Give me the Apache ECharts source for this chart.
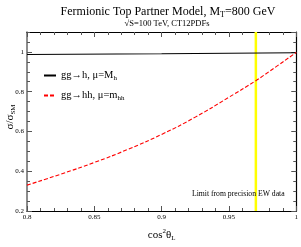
<!DOCTYPE html>
<html><head><meta charset="utf-8">
<script src="https://cdn.jsdelivr.net/npm/echarts@6/dist/echarts.min.js"></script>
<style>html,body{margin:0;padding:0;background:#fff}#c{width:301px;height:247px}</style>
</head><body><div id="c"></div>
<script>
const cosSqX = [0.8, 0.825, 0.85, 0.875, 0.9, 0.925, 0.95, 0.97, 0.975, 1.0];
const hhRatio = [0.330, 0.385, 0.444, 0.510, 0.585, 0.672, 0.772, 0.855, 0.878, 0.997];
const hX = [0.8, 0.9, 1.0];
const hRatio = [0.987, 0.991, 0.996];
const ewLimitX = 0.97;
const ewLimitY = [0.2, 1.1];
const xTicks = [0.8, 0.85, 0.9, 0.95, 1];
const yTicks = [0.2, 0.4, 0.6, 0.8, 1];

const serif = 'Liberation Serif';
const chart = echarts.init(document.getElementById('c'), null, {renderer: 'canvas'});
const fmtNum = v => String(+v.toFixed(2));
const baseX = {type: 'value', min: 0.8, max: 1, interval: 0.05,
  axisLine: {show: true, lineStyle: {color: '#000', width: 1.2}},
  splitLine: {show: false}};
const baseY = {type: 'value', min: 0.2, max: 1.1,
  axisLine: {show: true, lineStyle: {color: '#000', width: 1.2}},
  splitLine: {show: false}};
const tickStyle = {color: '#555', width: 1};
chart.setOption({
  animation: false,
  backgroundColor: '#fff',
  grid: {left: 27, right: 3, top: 32, bottom: 29, containLabel: false},
  title: [{
    text: 'Fermionic Top Partner Model, M{sub|T}=800 GeV',
    left: 163, textAlign: 'center', top: -1,
    textStyle: {fontFamily: serif, fontSize: 12, fontWeight: 'normal', color: '#000',
      rich: {sub: {fontFamily: serif, fontSize: 8, padding: [7, 0, 0, 0], color: '#000'}}}
  }, {
    text: '\u221aS=100 TeV, CT12PDFs',
    left: 162, textAlign: 'center', top: 14,
    textStyle: {fontFamily: serif, fontSize: 8.5, fontWeight: 'normal', color: '#000'}
  }],
  legend: {
    left: 43, top: 70, padding: 0, orient: 'vertical', itemWidth: 12, itemHeight: 8, itemGap: 8,
    data: ['h', 'hh'],
    itemStyle: {opacity: 0},
    formatter: n => n === 'h' ? 'gg\u2192h, \u03bc=M{sub|h}' : 'gg\u2192hh, \u03bc=m{sub|hh}',
    textStyle: {fontFamily: serif, fontSize: 10.5, color: '#000', padding: [0, 0, 0, 0],
      rich: {sub: {fontFamily: serif, fontSize: 7, padding: [6, 0, 0, 0], color: '#000'}}}
  },
  xAxis: [
    Object.assign({}, baseX, {position: 'bottom',
      axisTick: {show: true, inside: true, length: 5, lineStyle: tickStyle},
      minorTick: {show: true, splitNumber: 5, length: 3, lineStyle: tickStyle},
      axisLabel: {fontFamily: serif, fontSize: 7, color: '#000', margin: 3, formatter: fmtNum},
      name: 'cos{sup|2}\u03b8{sub|L}', nameLocation: 'middle', nameGap: 17,
      nameTextStyle: {fontFamily: serif, fontSize: 11, color: '#000',
        rich: {sup: {fontSize: 7, padding: [0, 0, 7, 0]}, sub: {fontSize: 7, padding: [7, 0, 0, 0]}}}}),
    Object.assign({}, baseX, {position: 'top',
      axisTick: {show: true, inside: true, length: 5, lineStyle: tickStyle},
      minorTick: {show: true, splitNumber: 5, length: 3, lineStyle: tickStyle},
      axisLabel: {show: false}})
  ],
  yAxis: [
    Object.assign({}, baseY, {position: 'left', interval: 0.2,
      axisLine: {show: true, lineStyle: {color: '#666', width: 1.5}},
      axisTick: {show: true, inside: true, length: 5, lineStyle: tickStyle},
      axisLabel: {fontFamily: serif, fontSize: 7, color: '#000', margin: 3, showMaxLabel: false,
        formatter: v => (v > 1.05 ? '' : fmtNum(v))}}),
    Object.assign({}, baseY, {position: 'left', interval: 0.05, axisLine: {show: false},
      axisTick: {show: true, inside: true, length: 3, lineStyle: tickStyle},
      axisLabel: {show: false}}),
    Object.assign({}, baseY, {position: 'right', interval: 0.2,
      axisTick: {show: true, inside: true, length: 5, lineStyle: tickStyle},
      axisLabel: {show: false}}),
    Object.assign({}, baseY, {position: 'right', interval: 0.05, axisLine: {show: false},
      axisTick: {show: true, inside: true, length: 3, lineStyle: tickStyle},
      axisLabel: {show: false}})
  ],
  graphic: [{
    type: 'text', left: 192, top: 190, silent: true, z: 100,
    style: {text: 'Limit from precision EW data', fontFamily: serif, fontSize: 7.7, fill: '#000'}
  }, {
    type: 'text', x: 10, y: 117, rotation: Math.PI / 2, silent: true, z: 100,
    style: {text: '\u03c3/\u03c3{sub|SM}', fontFamily: serif, fontSize: 11, fill: '#000',
      align: 'center', verticalAlign: 'middle',
      rich: {sub: {fontFamily: serif, fontSize: 7, padding: [7, 0, 0, 0], fill: '#000'}}}
  }],
  series: [
    {name: 'ew', type: 'line', symbol: 'none', z: 1,
      data: ewLimitY.map(y => [ewLimitX, y]),
      lineStyle: {color: '#ffff00', width: 2.5}, itemStyle: {color: '#ffff00'}},
    {name: 'h', type: 'line', symbol: 'none', z: 3,
      data: hX.map((x, i) => [x, hRatio[i]]),
      lineStyle: {color: '#000', width: 1.1}, itemStyle: {color: '#000'}},
    {name: 'hh', type: 'line', symbol: 'none', smooth: true, z: 3,
      data: cosSqX.map((x, i) => [x, hhRatio[i]]),
      lineStyle: {color: '#ff0000', width: 1.1, type: [4, 2]}, itemStyle: {color: '#ff0000'}}
  ]
});
</script></body></html>
